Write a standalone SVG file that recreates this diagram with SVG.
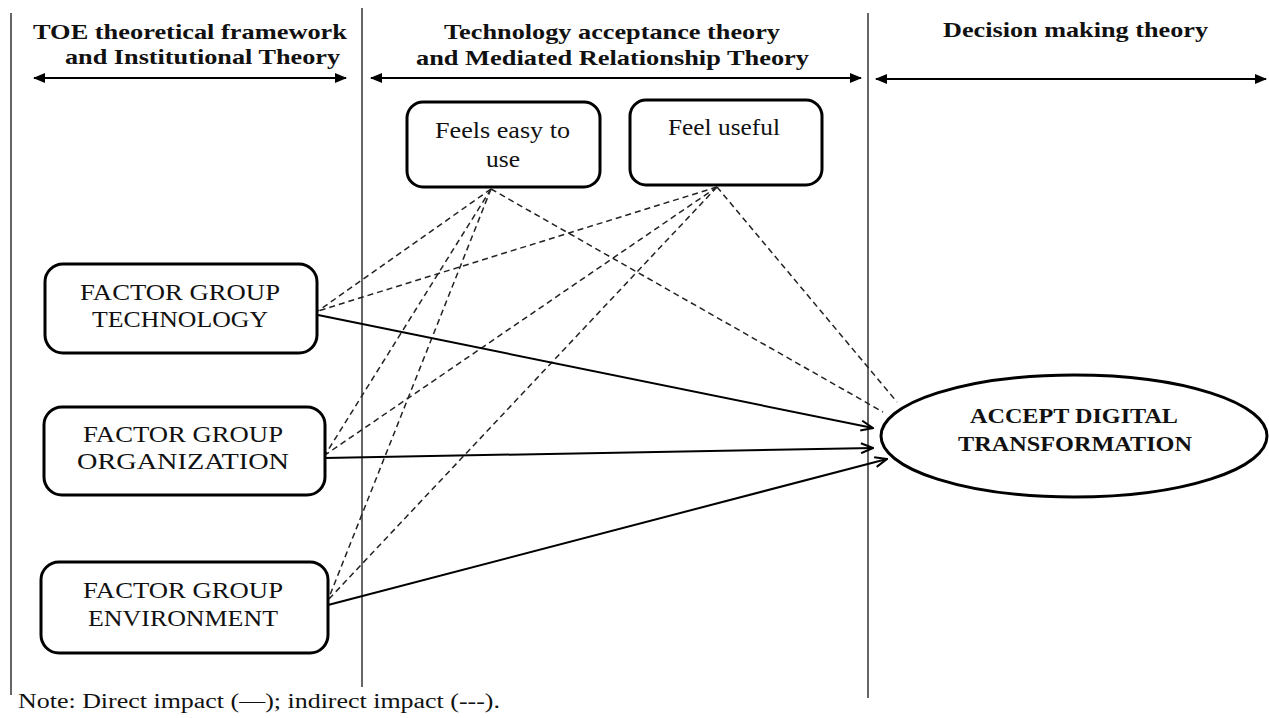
<svg xmlns="http://www.w3.org/2000/svg" width="1269" height="718" viewBox="0 0 1269 718">
<style>
.hd{font-family:"Liberation Serif","Times New Roman",serif;font-weight:bold;font-size:22px;fill:#111}
.tx{font-family:"Liberation Serif","Times New Roman",serif;font-size:23px;fill:#111}
.el{font-family:"Liberation Serif","Times New Roman",serif;font-weight:bold;font-size:21px;fill:#111}
.note{font-family:"Liberation Serif","Times New Roman",serif;font-size:20px;fill:#111}
.box{fill:#fff;stroke:#000;stroke-width:3}
.vl{stroke:#333;stroke-width:1.5}
.ha{stroke:#000;stroke-width:2;marker-start:url(#fa);marker-end:url(#fa)}
.dl{stroke:#222;stroke-width:1.5;stroke-dasharray:6 4;fill:none}
.sl{stroke:#000;stroke-width:2;fill:none;marker-end:url(#oa)}
</style>
<defs>
<marker id="fa" viewBox="0 0 12 10" refX="11" refY="5" markerWidth="12" markerHeight="10" markerUnits="userSpaceOnUse" orient="auto-start-reverse">
<path d="M0,0 L12,5 L0,10 Z" fill="#000"/>
</marker>
<marker id="oa" viewBox="0 0 14 12" refX="13" refY="6" markerWidth="14" markerHeight="12" markerUnits="userSpaceOnUse" orient="auto">
<path d="M1,1 L13,6 L1,11" fill="none" stroke="#000" stroke-width="2"/>
</marker>
</defs>
<rect width="1269" height="718" fill="#fff"/>
<g id="frame">
<line class="vl" x1="11" y1="13" x2="11" y2="695"/>
<line class="vl" x1="362" y1="8" x2="362" y2="687"/>
<line class="vl" x1="868" y1="13" x2="868" y2="698"/>
<line class="ha" x1="34" y1="78" x2="346" y2="78"/>
<line class="ha" x1="371" y1="78" x2="861" y2="78"/>
<line class="ha" x1="876" y1="79" x2="1266" y2="79"/>
<text class="hd" x="33" y="39" textLength="314" lengthAdjust="spacingAndGlyphs">TOE theoretical framework</text>
<text class="hd" x="65" y="64" textLength="275" lengthAdjust="spacingAndGlyphs">and Institutional Theory</text>
<text class="hd" x="444" y="39" textLength="336" lengthAdjust="spacingAndGlyphs">Technology acceptance theory</text>
<text class="hd" x="416" y="65" textLength="393" lengthAdjust="spacingAndGlyphs">and Mediated Relationship Theory</text>
<text class="hd" x="943" y="37" textLength="265" lengthAdjust="spacingAndGlyphs">Decision making theory</text>
<text class="note" x="18" y="708" textLength="482" lengthAdjust="spacingAndGlyphs">Note: Direct impact (—); indirect impact (---).</text>
</g>
<g id="connectors">
<line class="dl" x1="491" y1="189" x2="318" y2="311"/>
<line class="dl" x1="491" y1="189" x2="325" y2="455"/>
<line class="dl" x1="491" y1="189" x2="328" y2="600"/>
<line class="dl" x1="491" y1="189" x2="883" y2="412"/>
<line class="dl" x1="717" y1="187" x2="318" y2="311"/>
<line class="dl" x1="717" y1="187" x2="325" y2="455"/>
<line class="dl" x1="717" y1="187" x2="328" y2="600"/>
<line class="dl" x1="717" y1="187" x2="897" y2="402"/>
<line class="sl" x1="318" y1="315" x2="873" y2="428"/>
<line class="sl" x1="325" y1="458" x2="873" y2="448"/>
<line class="sl" x1="328" y1="605" x2="887" y2="459"/>
</g>
<g id="node-easy">
<rect class="box" x="407" y="102" width="193" height="85" rx="16"/>
<text class="tx" x="435" y="138" textLength="135" lengthAdjust="spacingAndGlyphs">Feels easy to</text>
<text class="tx" x="486" y="167" textLength="34" lengthAdjust="spacingAndGlyphs">use</text>
</g>
<g id="node-useful">
<rect class="box" x="630" y="100" width="192" height="85" rx="16"/>
<text class="tx" x="668" y="135" textLength="112" lengthAdjust="spacingAndGlyphs">Feel useful</text>
</g>
<g id="node-tech">
<rect class="box" x="45" y="264" width="272" height="89" rx="18"/>
<text class="tx" x="80" y="300" textLength="200" lengthAdjust="spacingAndGlyphs">FACTOR GROUP</text>
<text class="tx" x="92" y="327" textLength="176" lengthAdjust="spacingAndGlyphs">TECHNOLOGY</text>
</g>
<g id="node-org">
<rect class="box" x="44" y="407" width="281" height="88" rx="18"/>
<text class="tx" x="83" y="442" textLength="200" lengthAdjust="spacingAndGlyphs">FACTOR GROUP</text>
<text class="tx" x="77" y="469" textLength="212" lengthAdjust="spacingAndGlyphs">ORGANIZATION</text>
</g>
<g id="node-env">
<rect class="box" x="41" y="562" width="287" height="91" rx="18"/>
<text class="tx" x="83" y="598" textLength="200" lengthAdjust="spacingAndGlyphs">FACTOR GROUP</text>
<text class="tx" x="88" y="626" textLength="190" lengthAdjust="spacingAndGlyphs">ENVIRONMENT</text>
</g>
<g id="node-accept">
<ellipse class="box" cx="1074" cy="436" rx="193" ry="61"/>
<text class="el" x="970" y="423" textLength="208" lengthAdjust="spacingAndGlyphs">ACCEPT DIGITAL</text>
<text class="el" x="958" y="451" textLength="234" lengthAdjust="spacingAndGlyphs">TRANSFORMATION</text>
</g>
</svg>
